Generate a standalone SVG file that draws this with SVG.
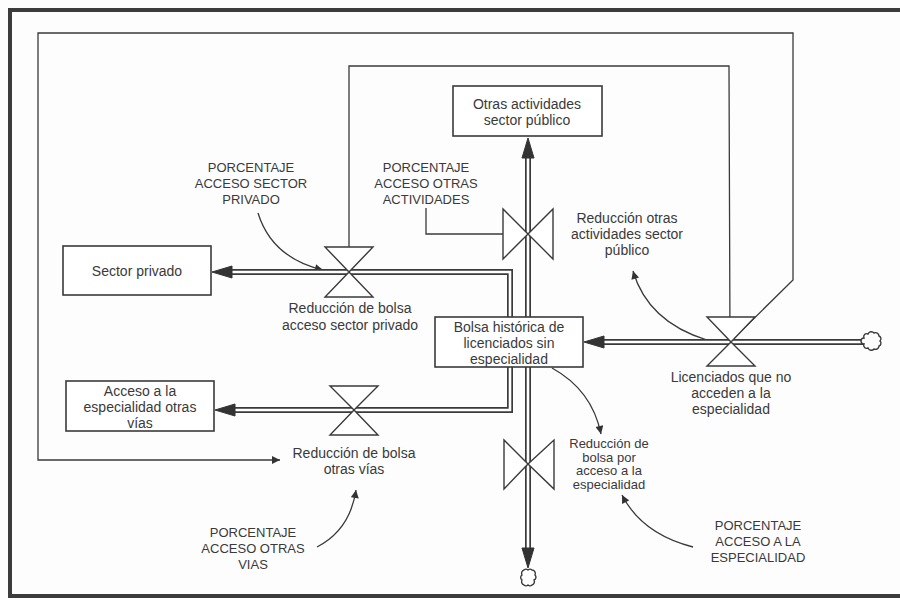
<svg xmlns="http://www.w3.org/2000/svg" width="900" height="600" viewBox="0 0 900 600">
<defs>
<style>
.t{font-family:"Liberation Sans",Arial,sans-serif;font-size:14px;fill:#3a3a3a;text-anchor:middle}
.s{font-family:"Liberation Sans",Arial,sans-serif;font-size:13px;fill:#3a3a3a;text-anchor:middle}
.u{font-family:"Liberation Sans",Arial,sans-serif;font-size:13px;fill:#3a3a3a;text-anchor:middle}
.box{fill:#fff;stroke:#3a3a3a;stroke-width:1.6}
.valve{fill:#fff;stroke:#3a3a3a;stroke-width:1.4;stroke-linejoin:miter}
.pipeo{fill:none;stroke:#3a3a3a;stroke-width:6}
.pipei{fill:none;stroke:#fff;stroke-width:2.6}
.head{fill:#333;stroke:#333;stroke-width:1}
.link{fill:none;stroke:#3a3a3a;stroke-width:1.3}
.cloud{fill:#fff;stroke:#3a3a3a;stroke-width:1.4}
</style>
<marker id="ar" viewBox="0 0 10 10" refX="10" refY="5" markerWidth="10" markerHeight="8" markerUnits="userSpaceOnUse" orient="auto">
<path d="M0,0 L10,5 L0,10 Z" fill="#333"/>
</marker>
</defs>
<rect x="0" y="0" width="900" height="600" fill="#fdfdfd"/>
<rect x="10" y="10" width="900" height="586" fill="none" stroke="#3c3c3c" stroke-width="4"/>

<g id="connectors">
<path class="link" d="M730,342 L793,280 L793,33 L38,33 L38,460 L280,460" marker-end="url(#ar)"/>
<path class="link" d="M730,342 L729,66 L349,66 L349,271" marker-end="url(#ar)"/>
<path class="link" d="M426,208 L426,234 L522,234" marker-end="url(#ar)"/>
<path class="link" d="M258,213 Q272,258 323,270" marker-end="url(#ar)"/>
<path class="link" d="M707,340 Q648,322 633,271" marker-end="url(#ar)"/>
<path class="link" d="M552,368 Q592,390 601,434" marker-end="url(#ar)"/>
<path class="link" d="M693,547 Q642,534 622,495" marker-end="url(#ar)"/>
<path class="link" d="M317,547 Q350,530 356,490" marker-end="url(#ar)"/>
</g>

<g id="pipes">
<path class="pipeo" d="M510,320 L510,272 L230,272"/>
<path class="pipei" d="M510,320 L510,272 L230,272"/>
<path class="pipeo" d="M510,364 L510,410 L233,410"/>
<path class="pipei" d="M510,364 L510,410 L233,410"/>
<path class="pipeo" d="M528,320 L528,155"/>
<path class="pipei" d="M528,320 L528,155"/>
<path class="pipeo" d="M528,364 L528,550"/>
<path class="pipei" d="M528,364 L528,550"/>
<path class="pipeo" d="M864,342 L600,342"/>
<path class="pipei" d="M864,342 L600,342"/>
<polygon class="head" points="212,272 232,266 232,278"/>
<polygon class="head" points="215,410 235,404 235,416"/>
<polygon class="head" points="528,138 522,158 534,158"/>
<polygon class="head" points="528,568 522,548 534,548"/>
<polygon class="head" points="584,342 604,336 604,348"/>
</g>

<g id="cloud-right">
<path class="cloud" d="M864,338 a3,3 0 0 1 4,-4 a3.5,3.5 0 0 1 6,-1 a3.5,3.5 0 0 1 5,3 a3,3 0 0 1 1,5 a3,3 0 0 1 -1,5 a3.5,3.5 0 0 1 -5,3 a3.5,3.5 0 0 1 -6,-1 a3,3 0 0 1 -4,-4 a2.5,2.5 0 0 1 0,-6 z"/>
</g>
<g id="cloud-bottom">
<path class="cloud" d="M524,570 a3,3 0 0 1 4,0 a3,3 0 0 1 4,0 a3.5,3.5 0 0 1 3,5 a3,3 0 0 1 -1,5 a3.5,3.5 0 0 1 -2,5 a3,3 0 0 1 -4,0 a3,3 0 0 1 -4,0 a3.5,3.5 0 0 1 -2,-5 a3,3 0 0 1 0,-5 a3.5,3.5 0 0 1 2,-5 z"/>
</g>

<g id="valve-privado">
<polygon class="valve" points="325,247 373,247 349,272"/>
<polygon class="valve" points="325,297 373,297 349,272"/>
<text class="t" x="350" y="313">Reducción de bolsa</text>
<text class="t" x="350" y="330">acceso sector privado</text>
</g>
<g id="valve-otras-vias">
<polygon class="valve" points="330,386 378,386 354,410"/>
<polygon class="valve" points="330,435 378,435 354,410"/>
<text class="t" x="354" y="458">Reducción de bolsa</text>
<text class="t" x="354" y="474">otras vías</text>
</g>
<g id="valve-licenciados">
<polygon class="valve" points="707,317 755,317 731,342"/>
<polygon class="valve" points="707,366 755,366 731,342"/>
<text class="t" x="731" y="382">Licenciados que no</text>
<text class="t" x="731" y="398">acceden a la</text>
<text class="t" x="731" y="414">especialidad</text>
</g>
<g id="valve-otras-actividades">
<polygon class="valve" points="503,209 503,259 528,234"/>
<polygon class="valve" points="553,209 553,259 528,234"/>
</g>
<g id="valve-acceso-especialidad">
<polygon class="valve" points="504,440 504,489 528,464"/>
<polygon class="valve" points="554,440 554,489 528,464"/>
</g>

<g id="sector-privado">
<rect class="box" x="63" y="246" width="148" height="49"/>
<text class="t" x="137" y="276">Sector privado</text>
</g>
<g id="acceso-otras-vias">
<rect class="box" x="66" y="381" width="148" height="50"/>
<text class="t" x="140" y="396">Acceso a la</text>
<text class="t" x="140" y="412">especialidad otras</text>
<text class="t" x="140" y="428">vías</text>
</g>
<g id="otras-actividades">
<rect class="box" x="453" y="86" width="149" height="50"/>
<text class="t" x="527" y="109">Otras actividades</text>
<text class="t" x="527" y="125">sector público</text>
</g>
<g id="bolsa">
<rect class="box" x="435" y="317" width="148" height="50"/>
<text class="t" x="509" y="332">Bolsa histórica de</text>
<text class="t" x="509" y="348">licenciados sin</text>
<text class="t" x="509" y="364">especialidad</text>
</g>

<g id="reduccion-otras-actividades">
<text class="t" x="627" y="223">Reducción otras</text>
<text class="t" x="627" y="239">actividades sector</text>
<text class="t" x="627" y="255">público</text>
</g>
<g id="reduccion-acceso-especialidad">
<text class="s" x="609" y="448">Reducción de</text>
<text class="s" x="609" y="461.5">bolsa por</text>
<text class="s" x="609" y="475">acceso a la</text>
<text class="s" x="609" y="488.5">especialidad</text>
</g>
<g id="pct-privado">
<text class="u" x="251" y="172">PORCENTAJE</text>
<text class="u" x="251" y="188">ACCESO SECTOR</text>
<text class="u" x="251" y="204">PRIVADO</text>
</g>
<g id="pct-otras-actividades">
<text class="u" x="426" y="172">PORCENTAJE</text>
<text class="u" x="426" y="188">ACCESO OTRAS</text>
<text class="u" x="426" y="204">ACTIVIDADES</text>
</g>
<g id="pct-otras-vias">
<text class="u" x="253" y="537">PORCENTAJE</text>
<text class="u" x="253" y="553">ACCESO OTRAS</text>
<text class="u" x="253" y="569">VIAS</text>
</g>
<g id="pct-especialidad">
<text class="u" x="758" y="530">PORCENTAJE</text>
<text class="u" x="758" y="546">ACCESO A LA</text>
<text class="u" x="758" y="562">ESPECIALIDAD</text>
</g>
</svg>
